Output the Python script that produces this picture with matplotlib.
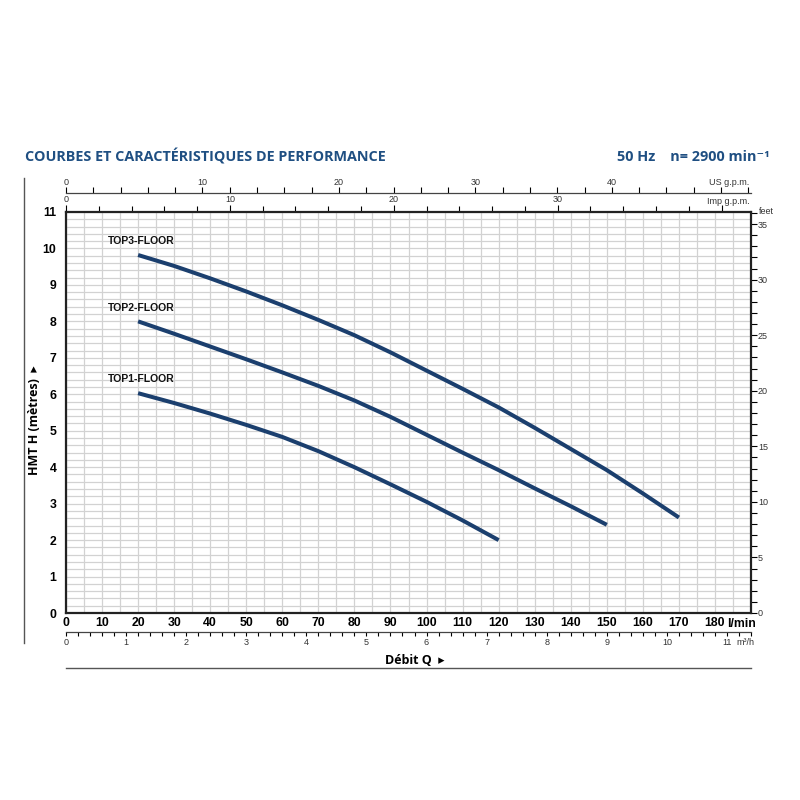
import numpy as np
import matplotlib
matplotlib.use("Agg")
import matplotlib.pyplot as plt
from matplotlib.ticker import MultipleLocator

# data (Q in l/min, H in metres)
q_top3 = [20, 30, 40, 50, 60, 70, 80, 90, 100, 110, 120, 130, 140, 150, 160, 170]
h_top3 = [9.82, 9.52, 9.18, 8.82, 8.44, 8.04, 7.62, 7.15, 6.65, 6.15, 5.64, 5.08, 4.5, 3.92, 3.28, 2.62]
q_top2 = [20, 30, 40, 50, 60, 70, 80, 90, 100, 110, 120, 130, 140, 150]
h_top2 = [8.0, 7.66, 7.31, 6.96, 6.6, 6.23, 5.83, 5.38, 4.89, 4.4, 3.92, 3.42, 2.93, 2.42]
q_top1 = [20, 30, 40, 50, 60, 70, 80, 90, 100, 110, 120]
h_top1 = [6.03, 5.76, 5.47, 5.16, 4.83, 4.44, 4.0, 3.53, 3.05, 2.54, 2.0]
names = ["TOP3-FLOOR", "TOP2-FLOOR", "TOP1-FLOOR"]

x_ticks = list(range(0, 190, 10))
y_ticks = list(range(0, 12))

BLUE = "#1f4f82"
CURVE = "#1b3f6e"
GRID = "#d2d2d2"
FONT = ["Liberation Sans", "DejaVu Sans"]
NARROW = ["Liberation Sans Narrow", "Liberation Sans", "DejaVu Sans"]
HEAD = ["Open Sans", "DejaVu Sans"]

# unit conversions
lpm2us = lambda q: np.asarray(q) / 3.78541
us2lpm = lambda g: np.asarray(g) * 3.78541
lpm2imp = lambda q: np.asarray(q) / 4.54609
imp2lpm = lambda g: np.asarray(g) * 4.54609
lpm2m3h = lambda q: np.asarray(q) * 0.06
m3h2lpm = lambda m: np.asarray(m) / 0.06
m2ft = lambda h: np.asarray(h) * 3.28084
ft2m = lambda f: np.asarray(f) / 3.28084

fig = plt.figure(figsize=(8, 8), dpi=100)
ax = fig.add_axes([66 / 800, 1 - 613 / 800, 685 / 800, 401 / 800])

for q, h, n in zip([q_top3, q_top2, q_top1], [h_top3, h_top2, h_top1], names):
    ax.plot(q, h, color=CURVE, lw=2.9, solid_capstyle="butt",
            solid_joinstyle="round", zorder=3)
    ax.text(q[0] - 8.4, h[0] + 0.38, n, fontsize=7.5, fontweight="bold",
            family=FONT, ha="left", va="center", color="#111111")

ax.set_xlim(0, 190)
ax.set_ylim(0, 11)
ax.set_xticks(x_ticks)
ax.set_yticks(y_ticks)
ax.xaxis.set_minor_locator(MultipleLocator(5))
ax.yaxis.set_minor_locator(MultipleLocator(0.2))
ax.grid(True, which="both", color=GRID, lw=0.9, zorder=0)
ax.set_axisbelow(True)
ax.tick_params(which="both", length=0)
ax.tick_params(axis="x", pad=3)
ax.tick_params(axis="y", pad=7)
for lab in ax.get_xticklabels() + ax.get_yticklabels():
    lab.set_fontweight("bold")
    lab.set_family(FONT)
    lab.set_fontsize(8.8)
for s in ax.spines.values():
    s.set_linewidth(1.6)
    s.set_color("#222222")
ax.text(187.4, -0.3, "l/min", fontsize=8.8, fontweight="bold", family=FONT,
        ha="center", va="center")

small = dict(fontsize=6.5, family=NARROW, color="#333333")

# top: Imp g.p.m. (on the frame) and US g.p.m. (above)
imp = ax.secondary_xaxis("top", functions=(lpm2imp, imp2lpm))
imp.set_xticks([0, 10, 20, 30, 40], ["0", "10", "20", "30", ""])
imp.xaxis.set_minor_locator(MultipleLocator(2))
imp.tick_params(which="major", direction="out", length=5, width=0.8, pad=0.5)
imp.tick_params(which="minor", direction="out", length=4, width=0.8)
for lab in imp.get_xticklabels():
    lab.set(**small)
imp.spines["top"].set_visible(False)

us = ax.secondary_xaxis(1.048, functions=(lpm2us, us2lpm))
us.set_xticks(range(0, 50, 10))
us.xaxis.set_minor_locator(MultipleLocator(2))
us.tick_params(which="both", direction="out", length=4, width=0.8, pad=0.5)
for lab in us.get_xticklabels():
    lab.set(**small)
us.spines["top"].set_linewidth(0.9)
us.spines["top"].set_color("#444444")

ax.text(189.5, 11.8, "US g.p.m.", ha="right", va="center", **small)
ax.text(189.5, 11.29, "Imp g.p.m.", ha="right", va="center", **small)

# bottom: m3/h
m3 = ax.secondary_xaxis(-0.048, functions=(lpm2m3h, m3h2lpm))
m3.set_xticks(range(0, 12))
m3.xaxis.set_minor_locator(MultipleLocator(0.2))
m3.tick_params(which="both", direction="out", length=3, width=0.8, pad=1)
for lab in m3.get_xticklabels():
    lab.set(**small)
m3.spines["bottom"].set_linewidth(0.9)
m3.spines["bottom"].set_color("#444444")
ax.text(188.5, -0.8, "m³/h", ha="center", va="center", **small)

# right: feet
ft = ax.secondary_yaxis("right", functions=(m2ft, ft2m))
ft.set_yticks(range(0, 36, 5))
ft.yaxis.set_minor_locator(MultipleLocator(1))
ft.tick_params(which="both", direction="out", length=4, width=0.8, pad=1)
for lab in ft.get_yticklabels():
    lab.set(**small)
ft.spines["right"].set_visible(False)
ax.text(1.012, 1.0, "feet", transform=ax.transAxes, ha="left", va="center", **small)

# axis titles
fig.text(415 / 800, 1 - 661 / 800, "Débit Q  \u25B8", fontsize=9, fontweight="bold",
         family=HEAD, ha="center", va="center")
fig.text(34 / 800, 1 - 420 / 800, "HMT H (mètres)  \u25B8", fontsize=9, fontweight="bold",
         family=HEAD, ha="center", va="center", rotation=90)

# frame lines
fig.add_artist(plt.Line2D([24 / 800, 24 / 800], [1 - 643 / 800, 1 - 178 / 800],
                          color="#555555", lw=1.0))
fig.add_artist(plt.Line2D([66 / 800, 751 / 800], [1 - 668 / 800, 1 - 668 / 800],
                          color="#555555", lw=1.0))

# header
fig.text(25 / 800, 1 - 157 / 800, "COURBES ET CARACTÉRISTIQUES DE PERFORMANCE",
         fontsize=10.4, fontweight="bold", family=HEAD,
         color=BLUE, ha="left", va="center")
fig.text(770 / 800, 1 - 157 / 800, "50 Hz    n= 2900 min\u207B\u00B9",
         fontsize=10.4, fontweight="bold", family=HEAD,
         color=BLUE, ha="right", va="center")

fig.savefig("out.png", dpi=100)
